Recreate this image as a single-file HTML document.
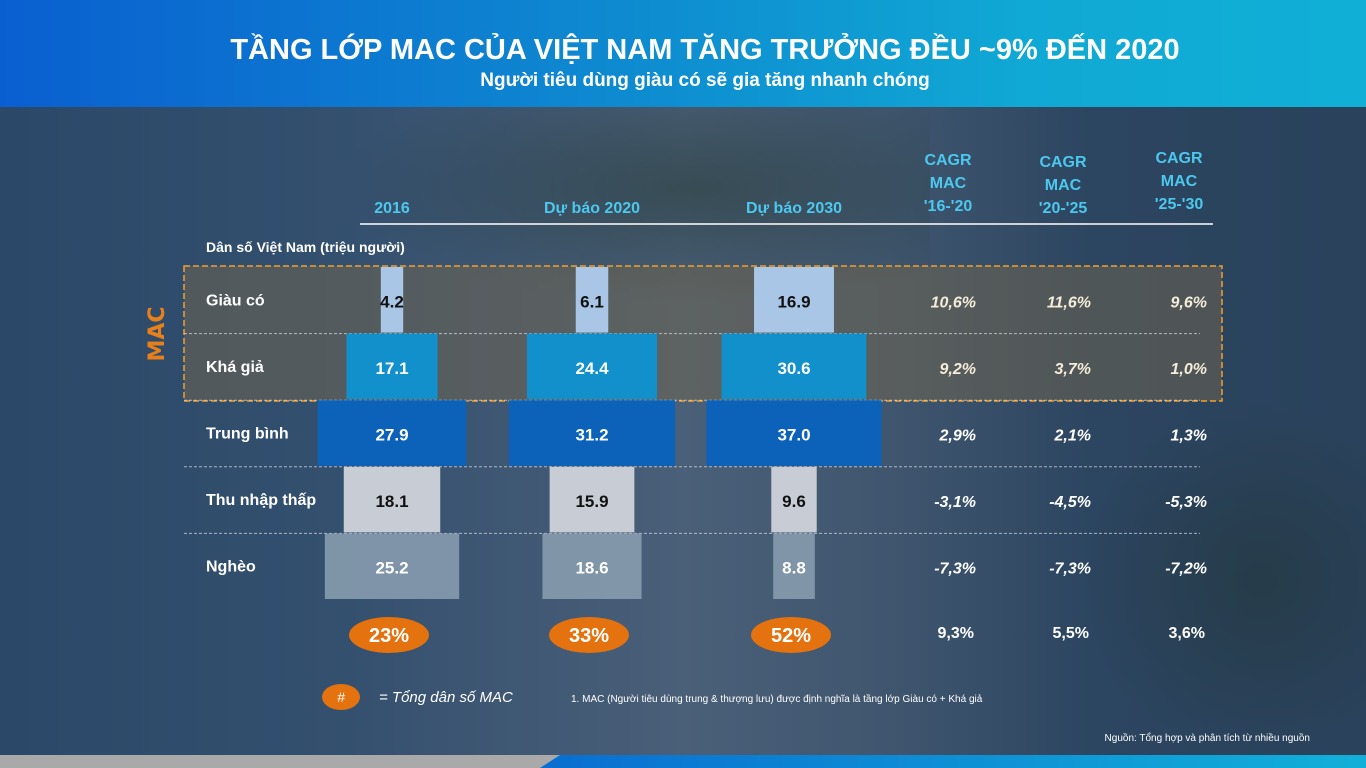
<!DOCTYPE html>
<html><head><meta charset="utf-8">
<style>
body{margin:0;width:1366px;height:768px;overflow:hidden;font-family:"Liberation Sans","DejaVu Sans",sans-serif;}
#root{position:relative;width:1366px;height:768px;background:linear-gradient(90deg,#2c4868 0%,#34506f 25%,#4a5f78 50%,#40566f 65%,#2c4560 80%,#2a425c 100%);overflow:hidden}
.hdr{position:absolute;left:0;top:0;width:1366px;height:107px;background:linear-gradient(90deg,#0a5fd0 0%,#0e8ad0 45%,#10a8d4 75%,#10b0d6 100%)}
.t{position:absolute;white-space:nowrap}
</style></head><body>
<div id="root">
<div style="position:absolute;left:330px;top:107px;width:600px;height:200px;background:radial-gradient(ellipse at 60% 40%,rgba(40,60,55,0.55),rgba(40,60,55,0) 70%)"></div>
<div style="position:absolute;left:1080px;top:400px;width:300px;height:360px;background:radial-gradient(ellipse at 60% 50%,rgba(35,55,60,0.6),rgba(35,55,60,0) 70%)"></div>
<div class="hdr"></div>
<div class="t" style="left:0;width:1410px;text-align:center;top:34px;font-size:29px;font-weight:bold;color:#fff">TẦNG LỚP MAC CỦA VIỆT NAM TĂNG TRƯỞNG ĐỀU ~9% ĐẾN 2020</div>
<div class="t" style="left:0;width:1410px;text-align:center;top:70px;font-size:19px;font-weight:bold;color:#fff">Người tiêu dùng giàu có sẽ gia tăng nhanh chóng</div>
<div style="position:absolute;left:0;top:755px;width:560px;height:13px;background:#a9a9a9"></div>
<div style="position:absolute;left:540px;top:755px;width:826px;height:13px;background:linear-gradient(90deg,#0a6ed0,#12b0d8);clip-path:polygon(20px 0,100% 0,100% 100%,0 100%)"></div>
<svg id="chart" width="1366" height="768" style="position:absolute;left:0;top:0"></svg>
</div>
<script>
const years=["2016","Dự báo 2020","Dự báo 2030"];
const classes=["Giàu có","Khá giả","Trung bình","Thu nhập thấp","Nghèo"];
const v2016=[4.2,17.1,27.9,18.1,25.2];
const v2020=[6.1,24.4,31.2,15.9,18.6];
const v2030=[16.9,30.6,37.0,9.6,8.8];
const macShare=["23%","33%","52%"];
const cagrHeads=["'16-'20","'20-'25","'25-'30"];
const cagr1620=["10,6%","9,2%","2,9%","-3,1%","-7,3%"];
const cagr2025=["11,6%","3,7%","2,1%","-4,5%","-7,3%"];
const cagr2530=["9,6%","1,0%","1,3%","-5,3%","-7,2%"];
const cagrMac=["9,3%","5,5%","3,6%"];

const NS="http://www.w3.org/2000/svg";
const svg=document.getElementById('chart');
function mk(tag,attrs,txt){const e=document.createElementNS(NS,tag);for(const k in attrs)e.setAttribute(k,attrs[k]);if(txt!==undefined)e.textContent=txt;svg.appendChild(e);return e;}
const rowTop=267,rowH=66.6;
const colCenter=[392,592,794];
const colScale=[5.33,5.33,4.73];
const colors=["#a9c6e6","#1290cc","#0b62b8","#c8cdd5","rgba(140,160,178,0.85)"];
const txtColors=["#111","#fff","#fff","#111","#fff"];
const yRow=i=>rowTop+i*rowH;
const xCAGR=[976,1091,1207];
// MAC box
let r=mk('rect',{x:184,y:266,width:1038,height:135,fill:'rgba(110,100,80,0.55)',stroke:'#f0a030','stroke-width':1.5,'stroke-dasharray':'6,3'});


let t=mk('text',{x:164,y:334,fill:'#e8801a','font-size':22,'font-weight':'bold','text-anchor':'middle',transform:'rotate(-90 164 334)','font-family':'DejaVu Sans,sans-serif'},'MAC');


// header line
let l=mk('line',{x1:360,y1:224,x2:1213,y2:224,stroke:'#fff','stroke-width':1.5});


years.forEach((y,i)=>{const e=mk('text',{x:colCenter[i],y:213,fill:'#4cc8ee','font-size':16,'font-weight':'bold','text-anchor':'middle'},y);

});
const headTop=[165,167,163];
cagrHeads.forEach((h,i)=>{const cx=xCAGR[i]-28;
["CAGR","MAC",h].forEach((s,j)=>{const e=mk('text',{x:cx,y:headTop[i]+j*23,fill:'#4cc8ee','font-size':16,'font-weight':'bold','text-anchor':'middle'},s);

});});
t=mk('text',{x:206,y:252,fill:'#fff','font-size':14,'font-weight':'bold'},'Dân số Việt Nam (triệu người)');


// separators
for(let i=1;i<5;i++){const e=mk('line',{x1:184,y1:yRow(i),x2:1200,y2:yRow(i),stroke:'rgba(220,225,235,0.7)','stroke-width':1,'stroke-dasharray':'3,2'});

}
const series=[v2016,v2020,v2030];
classes.forEach((c,i)=>{
 const e=mk('text',{x:206,y:yRow(i)+rowH/2+5,fill:'#fff','font-size':16,'font-weight':'bold'},c);
 
 
 series.forEach((s,k)=>{const w=s[i]*colScale[k];
  const b=mk('rect',{x:colCenter[k]-w/2,y:yRow(i),width:w,height:rowH-1,fill:colors[i]});
  
  
  const lb=mk('text',{x:colCenter[k],y:yRow(i)+rowH/2+7,fill:txtColors[i],'font-size':17,'font-weight':'bold','text-anchor':'middle'},s[i].toFixed(1));
  
  });
 [cagr1620,cagr2025,cagr2530].forEach((a,k)=>{const ce=mk('text',{x:xCAGR[k],y:yRow(i)+rowH/2+7,fill:i<2?'#f4ecd8':'#fff','font-size':16,'font-weight':'bold','font-style':'italic','text-anchor':'end'},a[i]);
  
  });
});
macShare.forEach((m,k)=>{const el=mk('ellipse',{cx:colCenter[k]-3,cy:635,rx:40,ry:18,fill:'#e3720f'});


const e=mk('text',{x:colCenter[k]-3,y:642,fill:'#fff','font-size':20,'font-weight':'bold','text-anchor':'middle'},m);

});
cagrMac.forEach((m,k)=>{const e=mk('text',{x:xCAGR[k]-2,y:638,fill:'#fff','font-size':16,'font-weight':'bold','text-anchor':'end'},m);

});
let el=mk('ellipse',{cx:341,cy:697,rx:19,ry:13,fill:'#e3720f'});


t=mk('text',{x:341,y:702,fill:'#fff','font-size':14,'font-style':'italic','text-anchor':'middle'},'#');


t=mk('text',{x:379,y:702,fill:'#fff','font-size':15,'font-style':'italic'},'= Tổng dân số MAC');


t=mk('text',{x:571,y:702,fill:'#fff','font-size':10},'1.      MAC (Người tiêu dùng trung & thượng lưu) được định nghĩa là tầng lớp Giàu có + Khá giả');


t=mk('text',{x:1310,y:741,fill:'#fff','font-size':10,'text-anchor':'end'},'Nguồn: Tổng hợp và phân tích từ nhiều nguồn');


</script>
</body></html>
